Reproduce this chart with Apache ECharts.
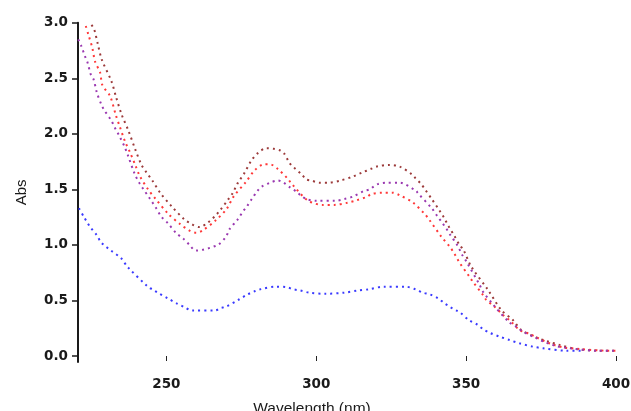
<!DOCTYPE html>
<html>
<head>
<meta charset="utf-8">
<script src="https://cdn.jsdelivr.net/npm/echarts@6/dist/echarts.min.js"></script>
<style>html,body{margin:0;padding:0;background:#fff}#c{width:631px;height:411px}</style>
</head>
<body>
<div id="c"></div>
<script>
const xTicks = [250, 300, 350, 400];
const yTicks = [0, 0.5, 1.0, 1.5, 2.0, 2.5, 3.0];

const darkRedSeries = [[225,2.98],[225.9,2.94],[227.1,2.81],[228.4,2.67],[231.7,2.47],[233.1,2.34],[235.1,2.17],[237.3,2.03],[239.6,1.86],[241.7,1.72],[243.4,1.65],[245.3,1.58],[247.9,1.47],[251.8,1.345],[256,1.23],[258.5,1.186],[261,1.16],[263.8,1.2],[266.6,1.27],[268,1.315],[270.5,1.405],[272.1,1.466],[273.8,1.556],[276,1.646],[278.3,1.757],[280.5,1.826],[283.3,1.87],[285.8,1.865],[288,1.85],[289.2,1.826],[291.1,1.736],[292.4,1.70],[295.3,1.63],[296.6,1.59],[298.3,1.58],[301,1.56],[304.2,1.56],[308.1,1.58],[312.2,1.615],[315.2,1.65],[318.3,1.685],[320.2,1.705],[324.2,1.72],[327.8,1.705],[331.9,1.635],[333.1,1.6],[335,1.547],[336.4,1.495],[338.5,1.414],[341.1,1.31],[342.5,1.25],[344.2,1.165],[346.1,1.08],[347.8,1.0],[349.1,0.955],[351.7,0.805],[357.3,0.595],[361.7,0.414],[365.6,0.324],[368.4,0.234],[373.4,0.168],[376.7,0.135],[381.2,0.1],[386.8,0.063],[394.5,0.048],[400,0.048]];

const redSeries = [[223.1,2.97],[224,2.89],[225.3,2.77],[226.2,2.65],[227.9,2.55],[228.6,2.44],[231.2,2.34],[233.1,2.17],[234.5,2.06],[236.2,1.93],[237.9,1.83],[239.6,1.72],[241.2,1.615],[244,1.495],[246.2,1.42],[250.7,1.277],[254.6,1.187],[257.9,1.126],[260,1.11],[262.1,1.13],[266.6,1.225],[270.1,1.324],[272.4,1.435],[276.6,1.57],[279.4,1.67],[282.7,1.727],[284.4,1.727],[287.1,1.685],[290.5,1.595],[291.9,1.547],[297.2,1.4],[302.2,1.36],[306,1.36],[310.5,1.38],[313.3,1.4],[317.1,1.435],[318.2,1.456],[322,1.47],[325.4,1.47],[327.6,1.45],[332.3,1.38],[336.2,1.277],[337.6,1.23],[341.7,1.075],[344.5,0.985],[346.1,0.92],[347.8,0.84],[351.1,0.714],[352.2,0.67],[355.6,0.55],[356.7,0.505],[359.5,0.444],[362.3,0.37],[365,0.31],[367.8,0.234],[371.2,0.198],[373.4,0.168],[378.4,0.108],[382.3,0.078],[387.9,0.063],[396.8,0.048],[400,0.048]];

const purpleSeries = [[220.6,2.85],[221.6,2.79],[222.8,2.70],[223.7,2.64],[224.8,2.53],[225.7,2.49],[226.8,2.37],[228.2,2.27],[229.1,2.22],[231.6,2.12],[232.7,2.06],[234.3,1.98],[236,1.886],[237.1,1.81],[239.4,1.64],[241,1.556],[242.1,1.51],[244.4,1.42],[246.6,1.33],[248.3,1.255],[250.5,1.195],[253.3,1.105],[255.5,1.06],[257.7,1.0],[259.8,0.949],[267.1,1.0],[269.9,1.075],[271,1.14],[273.8,1.23],[275.5,1.3],[276.8,1.345],[278.5,1.414],[280.5,1.49],[281.8,1.525],[284.6,1.56],[287.2,1.58],[289.1,1.56],[291.1,1.52],[293.3,1.48],[294.6,1.45],[296.6,1.414],[300,1.397],[306.4,1.397],[309.4,1.414],[312.2,1.435],[315.9,1.486],[317.8,1.5],[319.1,1.525],[320.5,1.547],[323.3,1.56],[327.8,1.56],[333.3,1.486],[333.9,1.466],[338.7,1.324],[340.5,1.255],[342,1.2],[343.4,1.147],[344.7,1.09],[347,1.0],[348.7,0.91],[350.1,0.85],[354.5,0.64],[355.6,0.58],[359.1,0.46],[364.5,0.3],[366.7,0.264],[368.9,0.22],[372.8,0.168],[376.7,0.12],[380,0.09],[384.5,0.069],[393.4,0.048],[400,0.048]];

const blueSeries = [[220.8,1.33],[222.4,1.255],[223.4,1.21],[224.7,1.157],[226.7,1.09],[228,1.03],[229.1,1.0],[231.5,0.949],[234.9,0.88],[237.1,0.80],[243.8,0.624],[245.3,0.6],[247.1,0.57],[250.4,0.52],[253.4,0.474],[256,0.44],[258.5,0.41],[266.3,0.41],[267.9,0.43],[269.9,0.444],[274,0.505],[276.8,0.55],[279.6,0.585],[281.3,0.6],[286.5,0.624],[290,0.62],[292.4,0.6],[294.6,0.59],[297.7,0.57],[303,0.56],[309.4,0.57],[313.9,0.59],[317.4,0.6],[322.5,0.624],[329.8,0.624],[333.1,0.6],[335.6,0.57],[337.8,0.555],[340.6,0.52],[342.5,0.48],[344.5,0.444],[346.7,0.41],[348,0.39],[351.1,0.32],[353.9,0.28],[355.6,0.243],[357.8,0.21],[361.2,0.174],[364.5,0.144],[367.8,0.114],[372.3,0.084],[375.7,0.069],[383.5,0.048],[388.5,0.048]];

const seriesNames = ['A', 'B', 'C', 'D'];
const seriesColors = ['#9c3a3a', '#ff3838', '#9a38b0', '#3a3aff'];
const seriesData = [darkRedSeries, redSeries, purpleSeries, blueSeries];

const chart = echarts.init(document.getElementById('c'), null, {renderer: 'canvas'});
const labelFont = {fontFamily: 'DejaVu Sans, sans-serif', fontSize: 13.5, fontWeight: 'bold', color: '#1a1a1a'};

chart.setOption({
  animation: false,
  backgroundColor: '#ffffff',
  grid: {left: 78, right: 15, top: 22.7, bottom: 49, containLabel: false, outerBoundsMode: 'none'},
  xAxis: {
    type: 'value', min: 220.5, max: 400,
    axisLine: {show: false},
    axisTick: {show: true, length: 5, inside: false, customValues: xTicks, lineStyle: {color: '#222', width: 1}},
    axisLabel: Object.assign({customValues: xTicks, margin: 15, formatter: v => String(v)}, labelFont),
    splitLine: {show: false},
    name: 'Wavelength (nm)', nameLocation: 'middle', nameGap: 39,
    nameTextStyle: {fontFamily: 'Liberation Sans, Arial, sans-serif', fontSize: 15.5, color: '#1a1a1a', padding: [0, 70, 0, 0]}
  },
  yAxis: {
    type: 'value', min: -0.054, max: 3.0,
    axisLine: {show: true, lineStyle: {color: '#1a1a1a', width: 2}},
    axisTick: {show: true, length: 6, customValues: yTicks, lineStyle: {color: '#1a1a1a', width: 1.5}},
    axisLabel: Object.assign({customValues: yTicks, margin: 10, formatter: v => v.toFixed(1)}, labelFont),
    splitLine: {show: false},
    name: 'Abs', nameLocation: 'middle', nameGap: 49, nameRotate: 90,
    nameTextStyle: {fontFamily: 'Liberation Sans, Arial, sans-serif', fontSize: 15, color: '#1a1a1a'}
  },
  series: seriesData.map((d, i) => ({
    name: seriesNames[i], type: 'line', data: d, smooth: 0.3, showSymbol: false,
    lineStyle: {color: seriesColors[i], width: 2, type: [2, 4]},
    itemStyle: {color: seriesColors[i]}
  }))
});
</script>
</body>
</html>
